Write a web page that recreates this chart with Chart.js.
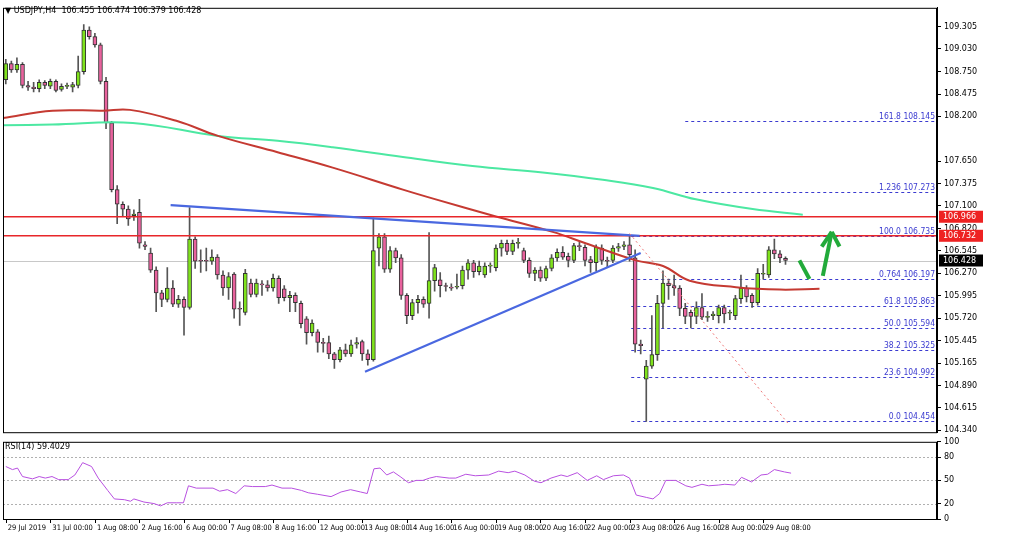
<!DOCTYPE html>
<html><head><meta charset="utf-8">
<script src="https://cdn.jsdelivr.net/npm/chart.js@4.4.1/dist/chart.umd.min.js"></script>
<style>
html,body{margin:0;padding:0;background:#fff;width:1024px;height:534px;overflow:hidden;font-family:"DejaVu Sans",sans-serif}
#c1{position:absolute;left:0;top:0}
#c2{position:absolute;left:0;top:434px}
.t{position:absolute;font-size:8px;color:#000;white-space:pre}
</style></head><body>
<canvas id="c1" width="1024" height="440"></canvas>
<canvas id="c2" width="1024" height="100"></canvas>
<div class="t" style="left:5px;top:6px">▼ USDJPY,H4  106.455 106.474 106.379 106.428</div>
<div class="t" style="left:5px;top:442px">RSI(14) 59.4029</div>
<script>
const opens=[108.65,108.85,108.77,108.84,108.58,108.56,108.54,108.62,108.57,108.63,108.53,108.57,108.56,108.58,108.75,109.26,109.18,109.08,108.63,108.12,107.30,107.12,107.06,106.98,107.02,106.62,106.52,106.31,106.03,105.95,106.09,105.89,105.95,105.85,106.69,106.43,106.43,106.42,106.47,106.25,106.09,106.26,105.84,105.79,106.15,106.01,106.14,106.13,106.09,106.21,106.08,105.97,106.00,105.90,105.71,105.54,105.55,105.42,105.42,105.28,105.21,105.33,105.28,105.40,105.43,105.28,105.21,106.58,106.72,106.32,106.55,106.46,106.00,105.75,105.91,105.95,105.90,106.18,106.19,106.12,106.10,106.10,106.12,106.31,106.40,106.29,106.25,106.36,106.34,106.58,106.64,106.54,106.64,106.55,106.43,106.27,106.31,106.21,106.33,106.46,106.53,106.48,106.43,106.61,106.59,106.44,106.40,106.58,106.43,106.43,106.58,106.60,106.62,106.46,105.40,104.97,105.13,105.27,105.90,106.15,106.12,106.09,105.84,105.79,105.74,105.85,105.73,105.75,105.75,105.85,105.78,105.75,105.96,106.09,106.00,105.91,106.26,106.25,106.56,106.51,106.455];
const closes=[108.85,108.77,108.84,108.58,108.56,108.54,108.62,108.58,108.63,108.52,108.57,108.58,108.59,108.75,109.26,109.18,109.08,108.63,108.12,107.30,107.12,107.06,106.94,107.00,106.64,106.60,106.31,106.03,105.95,106.09,105.89,105.95,105.85,106.69,106.42,106.42,106.42,106.47,106.25,106.09,106.23,105.83,105.83,106.27,106.01,106.15,106.13,106.09,106.21,105.97,105.97,106.00,105.91,105.65,105.54,105.66,105.42,105.41,105.28,105.21,105.33,105.28,105.39,105.42,105.28,105.21,106.55,106.72,106.32,106.55,106.46,106.00,105.75,105.91,105.95,105.89,106.18,106.34,106.12,106.11,106.09,106.11,106.31,106.40,106.29,106.36,106.36,106.37,106.58,106.64,106.54,106.64,106.65,106.43,106.27,106.31,106.21,106.33,106.46,106.53,106.47,106.43,106.61,106.60,106.43,106.40,106.59,106.43,106.42,106.58,106.60,106.62,106.50,105.40,105.38,105.13,105.27,105.90,106.15,106.12,106.09,105.84,105.74,105.74,105.85,105.73,105.74,105.77,105.85,105.77,105.79,105.96,106.09,105.98,105.91,106.27,106.27,106.56,106.51,106.46,106.428];
const highs=[108.90,108.88,108.92,108.86,108.63,108.62,108.65,108.64,108.66,108.65,108.60,108.61,108.62,108.94,109.33,109.30,109.22,109.10,108.68,108.14,107.35,107.15,107.10,107.05,107.18,106.66,106.58,106.35,106.06,106.34,106.18,106.00,105.98,107.08,106.72,106.56,106.58,106.56,106.50,106.30,106.28,106.28,105.92,106.32,106.20,106.20,106.18,106.18,106.26,106.24,106.12,106.05,106.03,105.93,105.74,105.70,105.58,105.47,105.50,105.30,105.36,105.40,105.45,105.48,105.45,105.33,106.95,106.76,106.76,106.60,106.58,106.50,106.02,105.95,106.00,105.98,106.77,106.38,106.28,106.15,106.14,106.26,106.36,106.44,106.43,106.42,106.40,106.40,106.62,106.68,106.68,106.68,106.70,106.58,106.46,106.34,106.35,106.36,106.50,106.57,106.60,106.52,106.64,106.65,106.62,106.48,106.62,106.62,106.47,106.61,106.64,106.66,106.73,106.56,105.45,105.20,105.75,106.00,106.30,106.20,106.25,106.12,105.90,105.82,105.92,106.02,105.80,105.80,105.88,105.88,105.82,106.00,106.25,106.12,106.02,106.33,106.38,106.60,106.69,106.55,106.474];
const lows=[108.60,108.74,108.74,108.55,108.52,108.50,108.50,108.54,108.54,108.50,108.51,108.54,108.50,108.55,108.72,109.15,109.05,108.60,108.05,107.27,106.88,106.98,106.86,106.92,106.58,106.56,106.28,105.80,105.86,105.92,105.86,105.85,105.51,105.83,106.33,106.28,106.30,106.38,106.20,106.00,105.95,105.72,105.63,105.76,105.98,105.98,106.00,106.05,106.05,105.90,105.93,105.80,105.80,105.60,105.40,105.50,105.30,105.30,105.22,105.10,105.18,105.25,105.25,105.35,105.20,105.14,105.19,106.36,106.28,106.28,106.40,105.95,105.65,105.70,105.78,105.85,105.72,106.05,105.98,106.05,106.06,106.08,106.08,106.20,106.22,106.25,106.22,106.28,106.30,106.48,106.50,106.50,106.58,106.40,106.22,106.18,106.17,106.18,106.30,106.42,106.44,106.35,106.40,106.55,106.36,106.28,106.30,106.38,106.35,106.40,106.54,106.56,106.42,105.30,105.28,104.45,105.10,105.20,105.60,105.95,106.00,105.75,105.65,105.60,105.65,105.70,105.68,105.70,105.66,105.66,105.70,105.70,105.90,105.92,105.85,105.88,106.20,106.22,106.45,106.40,106.379];

const redMaIdx=[-0.5,8.4,17.4,22.3,30.9,38.1,48.8,58.7,71.3,77.2,88.0,98.2,104.1,113.1,118.0,122.8,131.1,139.0,146.1];
const redMaVal=[108.18,108.27,108.27,108.28,108.14,107.96,107.76,107.57,107.30,107.18,106.97,106.78,106.64,106.43,106.36,106.18,106.10,106.07,106.08];
const greenMaIdx=[-0.5,8.4,22.8,38.1,48.8,58.7,71.3,83.8,96.4,107.2,116.2,123.9,134.1,143.1];
const greenMaVal=[108.09,108.10,108.12,107.96,107.90,107.82,107.70,107.59,107.51,107.42,107.32,107.18,107.06,106.99];

const rsiIdx=[0,1.2,2.1,3.0,4.8,6.0,7.1,8.3,9.5,11.2,12.4,13.8,15.4,16.6,18.3,19.5,21.3,22.4,23.0,24.8,26.6,27.8,29.0,30.7,31.9,32.8,34.2,37.2,38.4,39.8,41.3,42.8,44.3,46.6,47.8,49.6,51.3,53.1,54.3,56.0,58.4,60.2,61.9,63.7,64.9,66.1,67.2,68.4,69.6,70.8,72.3,73.7,74.9,76.1,77.3,79.6,80.8,82.6,84.3,86.7,88.5,90.2,91.4,93.2,94.9,96.1,97.9,99.7,100.8,102.6,104.4,106.1,107.3,109.1,110.9,112.0,113.2,115.0,116.2,117.4,118.5,120.3,122.1,123.2,125.0,126.2,128.0,129.1,130.9,132.1,133.9,135.6,136.8,138.0,139.8,141.0];
const rsiVal=[68,64,66,55,52,55,53,55,51,51,57,73,68,53,37,26,25,23,26,22,20,17,21,21,21,43,40,40,36,38,33,43,42,42,44,40,40,37,34,32,29,35,38,35,33,65,66,57,61,55,47,50,50,53,55,53,53,58,56,57,62,60,62,57,49,47,53,57,55,60,50,56,51,56,57,53,31,28,26,33,50,50,43,41,45,43,44,45,44,54,48,57,58,64,61,59.4];

const priceTicks=[109.305,109.030,108.750,108.475,108.200,107.650,107.375,107.100,106.820,106.545,106.270,105.995,105.720,105.445,105.165,104.890,104.615,104.340];
const dateTickIdx=[0,8,16,24,32,40,48,56,64,72,80,88,96,104,112,120,128,136];
const dateTickLabels=["29 Jul 2019","31 Jul 00:00","1 Aug 08:00","2 Aug 16:00","6 Aug 00:00","7 Aug 08:00","8 Aug 16:00","12 Aug 00:00","13 Aug 08:00","14 Aug 16:00","16 Aug 00:00","19 Aug 08:00","20 Aug 16:00","22 Aug 00:00","23 Aug 08:00","26 Aug 16:00","28 Aug 00:00","29 Aug 08:00"];
const rsiTicks=[0,20,50,80,100];
const rsiLevels=[20,50,80];

const fibLevels=["161.8","1.236","100.0","0.764","61.8","50.0","38.2","23.6","0.0"];
const fibPrices=[108.145,107.273,106.735,106.197,105.863,105.594,105.325,104.992,104.454];
const fibStart=[122,122,112.3,112.3,112.3,112.3,112.3,112.3,112.3];
const resistLevels=[106.966,106.732];
const lastPrice=106.428;
const blueTop=[29.6,107.11,113.8,106.73];
const blueBottom=[64.5,105.06,114.0,106.52];
const redDotted=[112.0,106.76,140.4,104.43];
const arrowDown=[142.5,106.43,144.3,106.20];
const arrowUp=[146.7,106.24,148.3,106.78];
const arrowWings=[[146.5,106.60],[149.7,106.60]];

const XMIN=-0.5, XMAX=167.2;
const SMALL='7.5px "DejaVu Sans Condensed","Liberation Sans Narrow","DejaVu Sans",sans-serif';
const FIBF='8.5px "DejaVu Sans Condensed","Liberation Sans Narrow","DejaVu Sans",sans-serif';
const idx=opens.map((_,i)=>i);
const bodies=idx.map(i=>{let a=opens[i],b=closes[i];if(Math.abs(a-b)<0.012){const m=(a+b)/2;a=m-0.006;b=m+0.006;}return {x:i,y:[a,b]};});
const wicks=idx.map(i=>({x:i,y:[lows[i],highs[i]]}));
const bodyColors=idx.map(i=>closes[i]>=opens[i]?'#7fe21c':'#e8629d');

const FONT={family:'DejaVu Sans',size:8};
function px(ch,i,p){return [ch.scales.x.getPixelForValue(i),ch.scales.y.getPixelForValue(p)];}
function seg(ctx,ch,a,col,w,dash){const p1=px(ch,a[0],a[1]),p2=px(ch,a[2],a[3]);ctx.save();ctx.strokeStyle=col;ctx.lineWidth=w;ctx.setLineDash(dash||[]);ctx.beginPath();ctx.moveTo(p1[0],p1[1]);ctx.lineTo(p2[0],p2[1]);ctx.stroke();ctx.restore();}

const overlay={id:'ov',
beforeDatasetsDraw(ch){const ctx=ch.ctx,ca=ch.chartArea,y=ch.scales.y;
 ctx.save();
 const yl=Math.round(y.getPixelForValue(lastPrice))+0.5;
 ctx.strokeStyle='#c8c8c8';ctx.lineWidth=1;ctx.beginPath();ctx.moveTo(ca.left,yl);ctx.lineTo(ca.right,yl);ctx.stroke();
 fibPrices.forEach((p,k)=>{const yy=Math.round(y.getPixelForValue(p))+0.5;const x0=ch.scales.x.getPixelForValue(fibStart[k]);
  ctx.strokeStyle='#3b3bd0';ctx.setLineDash([3,3]);ctx.beginPath();ctx.moveTo(x0,yy);ctx.lineTo(ca.right,yy);ctx.stroke();ctx.setLineDash([]);
  ctx.fillStyle='#3b3bd0';ctx.font=FIBF;ctx.textAlign='right';ctx.textBaseline='bottom';ctx.fillText(fibLevels[k]+' '+p.toFixed(3),ca.right-2,yy);});
 ctx.restore();},
afterDatasetsDraw(ch){const ctx=ch.ctx,ca=ch.chartArea,y=ch.scales.y;
 ctx.save();
 resistLevels.forEach(p=>{const yy=y.getPixelForValue(p);ctx.strokeStyle='#e8262a';ctx.lineWidth=1.5;ctx.beginPath();ctx.moveTo(ca.left,yy);ctx.lineTo(ca.right,yy);ctx.stroke();});
 ctx.restore();
 seg(ctx,ch,blueTop,'#4a68e0',2.2);
 seg(ctx,ch,blueBottom,'#4a68e0',2.2);
 seg(ctx,ch,redDotted,'#e77',1,[2,3]);
 seg(ctx,ch,arrowDown,'#22aa3a',4);
 seg(ctx,ch,arrowUp,'#22aa3a',4);
 arrowWings.forEach(w=>seg(ctx,ch,[arrowUp[2],arrowUp[3],w[0],w[1]],'#22aa3a',4));
 ctx.save();
 ctx.strokeStyle='#000';ctx.lineWidth=1;ctx.strokeRect(ca.left+0.5,ca.top+0.5,ca.right-ca.left-1,ca.bottom-ca.top);
 const box=(p,bg,fg)=>{const yy=y.getPixelForValue(p);ctx.fillStyle=bg;ctx.fillRect(ca.right+2,yy-6,44,12);ctx.fillStyle=fg;ctx.font='8px DejaVu Sans';ctx.textAlign='left';ctx.textBaseline='middle';ctx.fillText(p.toFixed(3),ca.right+6,yy);};
 box(resistLevels[0],'#ee2222','#fff');box(resistLevels[1],'#ee2222','#fff');box(lastPrice,'#000','#fff');
 ctx.restore();}
};

new Chart(document.getElementById('c1'),{
 data:{datasets:[
  {type:'bar',data:wicks,backgroundColor:'#555',barThickness:1,grouped:false,order:3},
  {type:'bar',data:bodies,backgroundColor:bodyColors,borderColor:'#333',borderWidth:1,borderSkipped:false,barThickness:4,grouped:false,order:2},
  {type:'line',data:redMaIdx.map((v,i)=>({x:v,y:redMaVal[i]})),borderColor:'#c53a32',borderWidth:2,pointRadius:0,tension:0.4,order:1},
  {type:'line',data:greenMaIdx.map((v,i)=>({x:v,y:greenMaVal[i]})),borderColor:'#4ce8a2',borderWidth:2,pointRadius:0,tension:0.4,order:1}
 ]},
 options:{responsive:false,animation:false,events:[],
  layout:{padding:{left:3,top:5,right:0,bottom:3}},
  plugins:{legend:{display:false},tooltip:{enabled:false}},
  scales:{
   x:{type:'linear',offset:false,min:XMIN,max:XMAX,display:false},
   y:{position:'right',min:104.317,max:109.535,
      afterFit(a){a.width=87;},
      afterBuildTicks(a){a.ticks=priceTicks.map(v=>({value:v}));},
      grid:{drawOnChartArea:false,tickLength:4,color:'#000'},border:{color:'#000'},
      ticks:{font:FONT,color:'#000',padding:3,callback:v=>v.toFixed(3)}}
  }},
 plugins:[overlay]
});

const rsiPlug={id:'rsi',beforeDatasetsDraw(ch){const ctx=ch.ctx,ca=ch.chartArea;ctx.save();ctx.strokeStyle='#b0b0b0';ctx.setLineDash([2,2]);
 rsiLevels.forEach(l=>{const yy=Math.round(ch.scales.y.getPixelForValue(l))+0.5;ctx.beginPath();ctx.moveTo(ca.left,yy);ctx.lineTo(ca.right,yy);ctx.stroke();});ctx.restore();},
 afterDatasetsDraw(ch){const ctx=ch.ctx,ca=ch.chartArea;ctx.save();ctx.strokeStyle='#000';ctx.lineWidth=1;ctx.strokeRect(ca.left+0.5,ca.top+0.5,ca.right-ca.left-1,ca.bottom-ca.top);
  ctx.fillStyle='#000';ctx.font=SMALL;ctx.textAlign='left';ctx.textBaseline='top';
  dateTickIdx.forEach((v,k)=>{const x=ch.scales.x.getPixelForValue(v);ctx.beginPath();ctx.moveTo(Math.round(x)+0.5,ca.bottom);ctx.lineTo(Math.round(x)+0.5,ca.bottom+4);ctx.stroke();ctx.fillText(dateTickLabels[k],x+2,ca.bottom+5);});
  ctx.restore();}};

new Chart(document.getElementById('c2'),{
 type:'line',
 data:{datasets:[{data:rsiIdx.map((v,i)=>({x:v,y:rsiVal[i]})),borderColor:'#b850e0',borderWidth:1,pointRadius:0,tension:0}]},
 options:{responsive:false,animation:false,events:[],
  layout:{padding:{left:3,top:0,right:0,bottom:0}},
  plugins:{legend:{display:false},tooltip:{enabled:false}},
  scales:{
   x:{type:'linear',offset:false,min:XMIN,max:XMAX,afterFit(a){a.height=15;},
      grid:{display:false},border:{display:false},ticks:{display:false}},
   y:{position:'right',min:0,max:100,afterFit(a){a.width=87;},
      afterBuildTicks(a){a.ticks=rsiTicks.map(v=>({value:v}));},
      grid:{drawOnChartArea:false,tickLength:4,color:'#000'},border:{color:'#000'},
      ticks:{font:FONT,color:'#000',padding:3}}
  }},
 plugins:[rsiPlug]
});
</script></body></html>
